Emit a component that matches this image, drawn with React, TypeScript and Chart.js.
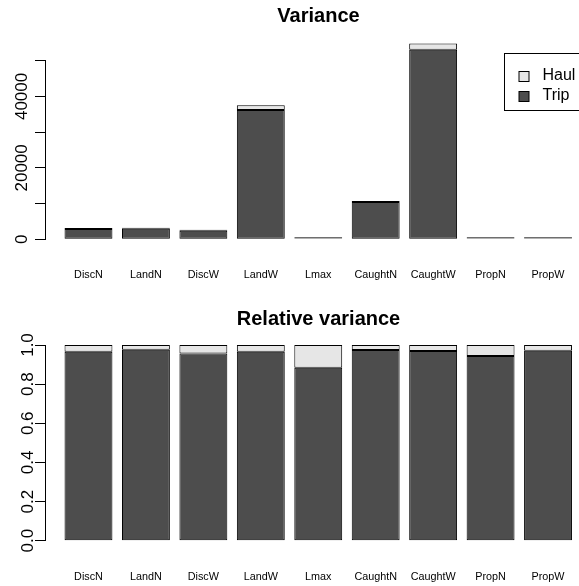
import React, { useEffect, useRef } from 'react';
import { Chart, registerables } from 'chart.js';

Chart.register(...registerables);

// ---- data ----
const categories = ['DiscN', 'LandN', 'DiscW', 'LandW', 'Lmax', 'CaughtN', 'CaughtW', 'PropN', 'PropW'];
const seriesNames = ['Trip', 'Haul'];
const seriesColors = ['#4D4D4D', '#E6E6E6'];

const varianceTrip = [2900, 2930, 2410, 36230, 9, 10450, 53100, 0.5, 0.4];
const varianceHaul = [100, 70, 110, 1270, 1, 280, 1700, 0.03, 0.02];

const relativeTrip = [0.966, 0.976, 0.956, 0.966, 0.884, 0.974, 0.969, 0.944, 0.971];
const relativeHaul = [0.034, 0.024, 0.044, 0.034, 0.116, 0.026, 0.031, 0.056, 0.029];

const varianceTicks = [0, 10000, 20000, 30000, 40000, 50000];
const varianceTickLabels = ['0', '', '20000', '', '40000', ''];
const relativeTicks = [0, 0.2, 0.4, 0.6, 0.8, 1.0];
const relativeTickLabels = ['0.0', '0.2', '0.4', '0.6', '0.8', '1.0'];

const titles = ['Variance', 'Relative variance'];

// ---- styling ----
const FONT = "'Liberation Sans', Arial, Helvetica, sans-serif";
const CANVAS_W = 637;
const CANVAS_H = 293;

const rLegend = {
  id: 'rLegend',
  afterDraw(chart: any) {
    const { ctx, chartArea } = chart;
    const left = Math.round(chartArea.left + 459) + 0.5;
    const top = Math.round(chartArea.top - 8) + 0.5;
    const w = 140;
    const h = 57;
    ctx.save();
    ctx.fillStyle = '#ffffff';
    ctx.fillRect(left, top, w, h);
    ctx.strokeStyle = '#000';
    ctx.lineWidth = 1;
    ctx.strokeRect(left, top, w, h);
    const items = chart.data.datasets.slice().reverse();
    items.forEach((ds: any, i: number) => {
      const cy = top + 22 + i * 20;
      ctx.fillStyle = ds.backgroundColor;
      ctx.fillRect(left + 14.5, Math.round(cy - 5) + 0.5, 10, 10);
      ctx.strokeRect(left + 14.5, Math.round(cy - 5) + 0.5, 10, 10);
      ctx.fillStyle = '#000';
      ctx.font = `16px ${FONT}`;
      ctx.textBaseline = 'middle';
      ctx.textAlign = 'left';
      ctx.fillText(ds.label, left + 38, cy);
    });
    ctx.restore();
  },
};

function makeConfig(opts: {
  trip: number[];
  haul: number[];
  ticks: number[];
  tickLabels: string[];
  title: string;
  titlePadTop: number;
  titlePadBottom: number;
  xAxisHeight: number;
  yLabelPad: number;
  legend: boolean;
}): any {
  const mk = (vals: number[], idx: number) => ({
    label: seriesNames[idx],
    data: vals.map((y, i) => ({ x: i, y })),
    backgroundColor: seriesColors[idx],
    borderColor: '#000000',
    borderWidth: 1,
    borderSkipped: false,
    inflateAmount: 0,
    barThickness: 47.9,
    minBarLength: 1,
    clip: false,
  });
  return {
    type: 'bar',
    data: { datasets: [mk(opts.trip, 0), mk(opts.haul, 1)] },
    options: {
      responsive: false,
      animation: false,
      devicePixelRatio: 1,
      layout: { padding: 0 },
      plugins: {
        legend: { display: false },
        tooltip: { enabled: false },
        title: {
          display: true,
          text: opts.title,
          color: '#000',
          font: { family: FONT, size: 20, weight: 'bold', lineHeight: 1.2 },
          padding: { top: opts.titlePadTop, bottom: opts.titlePadBottom },
        },
      },
      scales: {
        x: {
          type: 'linear',
          stacked: true,
          offset: false,
          min: -0.757,
          max: 9.549,
          grid: { display: false, offset: false },
          border: { display: false },
          afterBuildTicks: (scale: any) => {
            scale.ticks = categories.map((_, i) => ({ value: i }));
          },
          afterFit: (scale: any) => {
            scale.height = opts.xAxisHeight;
          },
          ticks: {
            autoSkip: false,
            maxRotation: 0,
            minRotation: 0,
            padding: 21.5,
            color: '#000',
            font: { family: FONT, size: 10.8 },
            callback: (v: any) => categories[Math.round(Number(v))] ?? '',
          },
        },
        y: {
          type: 'linear',
          stacked: true,
          min: opts.ticks[0],
          max: opts.ticks[opts.ticks.length - 1],
          afterBuildTicks: (scale: any) => {
            scale.ticks = opts.ticks.map((v) => ({ value: v }));
          },
          afterFit: (scale: any) => {
            scale.width = 45;
          },
          grid: {
            display: true,
            drawOnChartArea: false,
            drawTicks: true,
            tickLength: 10,
            color: '#000',
            lineWidth: 1,
          },
          border: { display: true, color: '#000', width: 1 },
          ticks: {
            autoSkip: false,
            minRotation: 90,
            maxRotation: 90,
            crossAlign: 'center',
            padding: opts.yLabelPad,
            color: '#000',
            font: { family: FONT, size: 17 },
            callback: (_v: any, i: number) => opts.tickLabels[i] ?? '',
          },
        },
      },
    },
    plugins: opts.legend ? [rLegend] : [],
  };
}

export default function App() {
  const topRef = useRef<HTMLCanvasElement | null>(null);
  const botRef = useRef<HTMLCanvasElement | null>(null);

  useEffect(() => {
    if (!topRef.current || !botRef.current) return;
    const top = new Chart(
      topRef.current,
      makeConfig({
        trip: varianceTrip,
        haul: varianceHaul,
        ticks: varianceTicks,
        tickLabels: varianceTickLabels,
        title: titles[0],
        titlePadTop: 4.3,
        titlePadBottom: 32.4,
        xAxisHeight: CANVAS_H - 239.3,
        yLabelPad: -11.4,
        legend: true,
      })
    );
    const bot = new Chart(
      botRef.current,
      makeConfig({
        trip: relativeTrip,
        haul: relativeHaul,
        ticks: relativeTicks,
        tickLabels: relativeTickLabels,
        title: titles[1],
        titlePadTop: 14.2,
        titlePadBottom: 13.8,
        xAxisHeight: CANVAS_H - 247.7,
        yLabelPad: -5.3,
        legend: false,
      })
    );
    return () => {
      top.destroy();
      bot.destroy();
    };
  }, []);

  return (
    <div
      style={{
        position: 'fixed',
        left: 0,
        top: 0,
        width: 579,
        height: 586,
        overflow: 'hidden',
        background: '#ffffff',
      }}
    >
      <canvas ref={topRef} width={CANVAS_W} height={CANVAS_H} style={{ display: 'block' }} />
      <canvas ref={botRef} width={CANVAS_W} height={CANVAS_H} style={{ display: 'block' }} />
    </div>
  );
}
